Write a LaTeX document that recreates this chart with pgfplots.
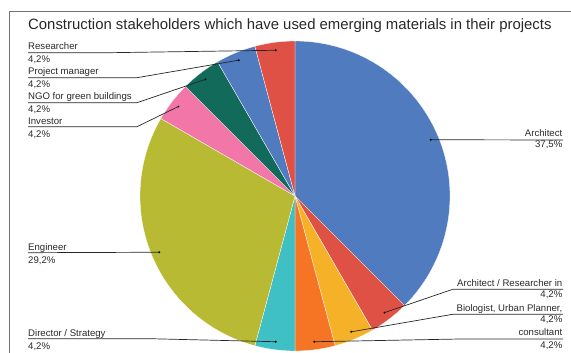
\documentclass[border=0pt]{standalone}
\usepackage{pgfplots}
\pgfplotsset{compat=1.18}
\usepackage{pgfplotstable}
\usepackage{fontspec}
\setmainfont{Liberation Sans}

\definecolor{cBlue}{RGB}{80,123,191}
\definecolor{cRed}{RGB}{224,81,69}
\definecolor{cYellow}{RGB}{245,178,40}
\definecolor{cOrange}{RGB}{245,117,36}
\definecolor{cTeal}{RGB}{62,192,196}
\definecolor{cOlive}{RGB}{184,186,52}
\definecolor{cPink}{RGB}{242,119,168}
\definecolor{cDkGreen}{RGB}{17,106,90}
\definecolor{txt}{RGB}{40,40,40}

% stakeholder counts (clockwise from top)
\pgfplotstableread{
id value color
Architect 9 cBlue
ArchitectResearcher 1 cRed
Biologist 1 cYellow
Consultant 1 cOrange
Director 1 cTeal
Engineer 7 cOlive
Investor 1 cPink
NGO 1 cDkGreen
ProjectManager 1 cBlue
Researcher 1 cRed
}\piedata

\begin{document}
\begin{tikzpicture}
\begin{axis}[
  x=1pt, y=1pt, y dir=reverse,
  xmin=0, xmax=571, ymin=0, ymax=353,
  axis lines=none, ticks=none, clip=false,
  enlargelimits=false,
]
% frame
\draw[black!55, line width=0.8pt] (axis cs:9,11.3) -- (axis cs:600,11.3);
\draw[black!55, line width=0.8pt] (axis cs:9,11.3) -- (axis cs:9,380);
% title
\node[anchor=base west, inner sep=0pt, text=txt, font=\fontsize{14.9}{17}\selectfont]
  at (axis cs:28,29.3) {Construction stakeholders which have used emerging materials in their projects};

% pie from table
\pgfplotstablegetrowsof{\piedata}
\pgfmathtruncatemacro\nlast{\pgfplotsretval-1}
\def\total{0}
\pgfplotsforeachungrouped \i in {0,...,\nlast}{%
  \pgfplotstablegetelem{\i}{value}\of\piedata
  \pgfmathsetmacro\total{\total+\pgfplotsretval}%
}
\def\cum{0}
\pgfplotsforeachungrouped \i in {0,...,\nlast}{%
  \pgfplotstablegetelem{\i}{value}\of\piedata \let\val\pgfplotsretval
  \pgfplotstablegetelem{\i}{color}\of\piedata \let\col\pgfplotsretval
  \pgfmathsetmacro\a{90-\cum*360/\total}%
  \pgfmathsetmacro\b{90-(\cum+\val)*360/\total}%
  \pgfmathsetmacro\m{(\a+\b)/2}%
  \pgfmathsetmacro\dx{295+147*cos(\m)}%
  \pgfmathsetmacro\dy{196-147*sin(\m)}%
  \edef\tmp{\noexpand\fill[\col, draw=white, line width=0.3pt] (axis cs:295,196) -- ++(\a:155pt) arc[start angle=\a, end angle=\b, radius=155pt] -- cycle;
    \noexpand\coordinate (d\i) at (axis cs:\dx,\dy);}%
  \tmp
  \pgfmathsetmacro\cum{\cum+\val}%
}

% leader lines
\begin{scope}[black!85, line width=0.7pt]
\draw (d0) -- (axis cs:563,140);
\draw (d1) -- (axis cs:452.7,289.3) -- (axis cs:563,289.3);
\draw (d2) -- (axis cs:452.7,314.3) -- (axis cs:563,314.3);
\draw (d3) -- (axis cs:460,339) -- (axis cs:563,339);
\draw (d4) -- (axis cs:150,338.7) -- (axis cs:28,338.7);
\draw (d5) -- (axis cs:28,252.7);
\draw (d6) -- (axis cs:137,126.7) -- (axis cs:28,126.7);
\draw (d7) -- (axis cs:137,102.7) -- (axis cs:28,102.7);
\draw (d8) -- (axis cs:137,77.7) -- (axis cs:28,77.7);
\draw (d9) -- (axis cs:110,52.7) -- (axis cs:28,52.7);
\fill[black] (d0) circle (1.1pt);
\fill[black] (d1) circle (1.1pt);
\fill[black] (d2) circle (1.1pt);
\fill[black] (d3) circle (1.1pt);
\fill[black] (d4) circle (1.1pt);
\fill[black] (d5) circle (1.1pt);
\fill[black] (d6) circle (1.1pt);
\fill[black] (d7) circle (1.1pt);
\fill[black] (d8) circle (1.1pt);
\fill[black] (d9) circle (1.1pt);
\end{scope}

% labels
\begin{scope}[every node/.style={inner sep=0pt, text=txt, font=\fontsize{9.6}{11}\selectfont}]
\node[anchor=base west] at (axis cs:28,50) {Researcher};
\node[anchor=base west] at (axis cs:28,62.3) {4,2\%};
\node[anchor=base west] at (axis cs:28,74.5) {Project manager};
\node[anchor=base west] at (axis cs:28,87.3) {4,2\%};
\node[anchor=base west] at (axis cs:28,99.3) {NGO for green buildings};
\node[anchor=base west] at (axis cs:28,112.3) {4,2\%};
\node[anchor=base west] at (axis cs:28,124.3) {Investor};
\node[anchor=base west] at (axis cs:28,137.3) {4,2\%};
\node[anchor=base west] at (axis cs:28,250) {Engineer};
\node[anchor=base west] at (axis cs:28,263) {29,2\%};
\node[anchor=base west] at (axis cs:28,336) {Director / Strategy};
\node[anchor=base west] at (axis cs:28,349) {4,2\%};
\node[anchor=base east] at (axis cs:562.5,136.7) {Architect};
\node[anchor=base east] at (axis cs:562.5,147.8) {37,5\%};
\node[anchor=base east] at (axis cs:562.5,286.7) {Architect / Researcher in};
\node[anchor=base east] at (axis cs:562.5,297.8) {4,2\%};
\node[anchor=base east] at (axis cs:562.5,311.2) {Biologist, Urban Planner,};
\node[anchor=base east] at (axis cs:562.5,322.8) {4,2\%};
\node[anchor=base east] at (axis cs:562.5,335.6) {consultant};
\node[anchor=base east] at (axis cs:562.5,348.4) {4,2\%};
\end{scope}
\end{axis}
\pgfresetboundingbox
\useasboundingbox (current axis.south west) rectangle (current axis.north east);
\end{tikzpicture}
\end{document}
